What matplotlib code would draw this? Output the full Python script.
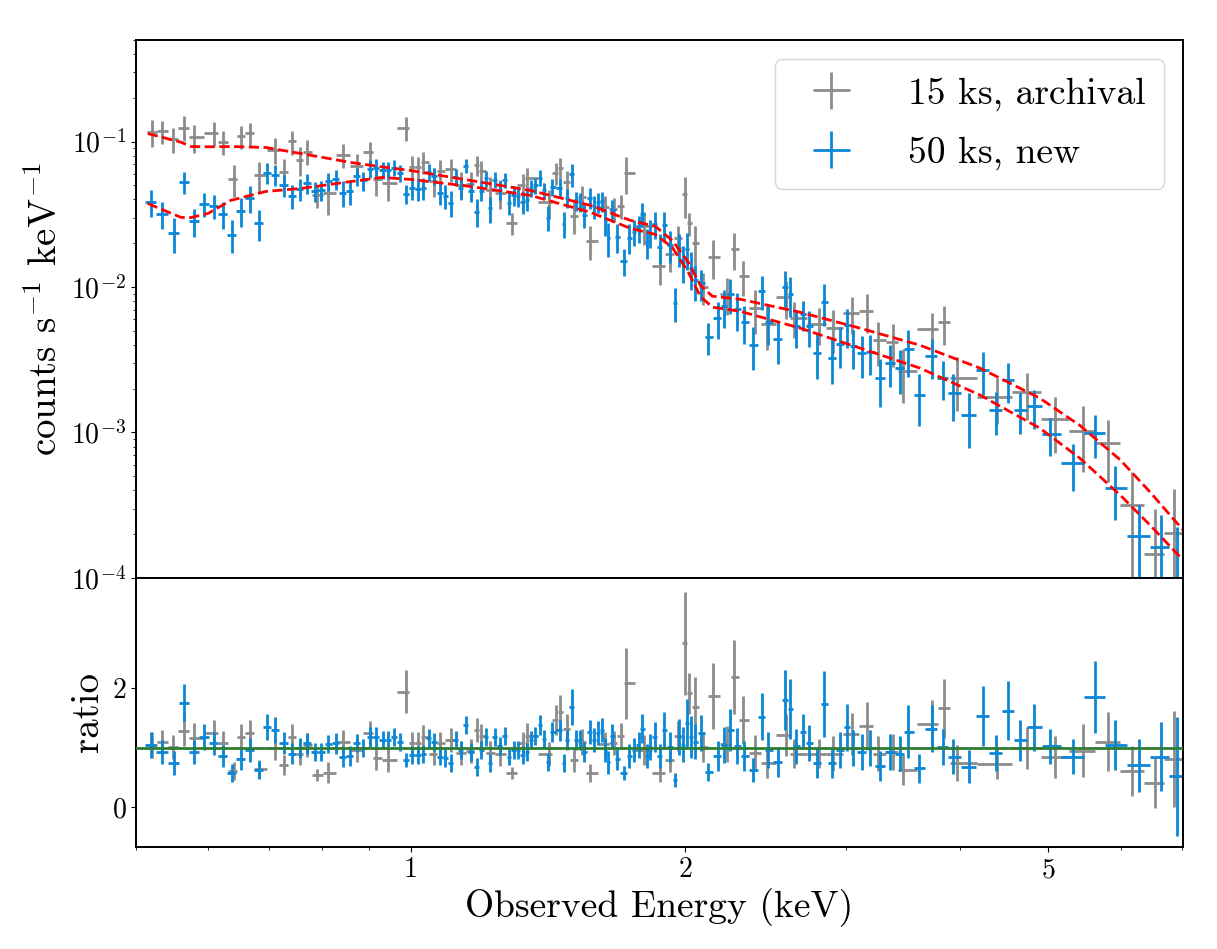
import numpy as np
import matplotlib
matplotlib.use("Agg")
import matplotlib.pyplot as plt
from matplotlib.ticker import MultipleLocator, FixedLocator, NullFormatter, FixedFormatter

plt.rcParams['font.family'] = 'cmr10'
plt.rcParams['mathtext.fontset'] = 'cm'
plt.rcParams['axes.formatter.use_mathtext'] = True
plt.rcParams['axes.linewidth'] = 1.4

# model curves (keV, counts/s/keV)
model_e = [0.515, 0.560, 0.574, 0.600, 0.635, 0.694, 0.758, 0.860, 0.930, 1.000,
           1.163, 1.353, 1.574, 1.741, 1.854, 1.935, 2.015, 2.077, 2.141, 2.297,
           2.673, 3.109, 3.615, 4.206, 4.893, 5.410, 5.990, 6.460, 7.020]
model_old = [0.1135, 0.0990, 0.0924, 0.0920, 0.0924, 0.0910, 0.0827, 0.0718, 0.0670, 0.0632,
             0.0540, 0.0461, 0.0364, 0.0287, 0.0261, 0.0209, 0.0148, 0.0103, 0.00864, 0.00824,
             0.00670, 0.00521, 0.00398, 0.00277, 0.00172, 0.00112, 0.00065, 0.00039, 0.000214]
model_new = [0.0375, 0.0301, 0.0300, 0.0321, 0.0394, 0.0454, 0.0476, 0.0531, 0.0567, 0.0549,
             0.0491, 0.0426, 0.0326, 0.0253, 0.0230, 0.0187, 0.0126, 0.00863, 0.00726, 0.00681,
             0.00521, 0.00380, 0.00277, 0.00181, 0.00107, 0.000667, 0.000372, 0.000231, 0.000133]

# 15 ks archival: energy, data/model ratio, ratio error
old_e = [0.5205, 0.5338, 0.5489, 0.5638, 0.5786, 0.6081, 0.6225, 0.6394, 0.6513, 0.6663,
         0.6816, 0.7096, 0.7254, 0.7407, 0.7559, 0.7694, 0.7889, 0.8126, 0.8426, 0.8727,
         0.9018, 0.9156, 0.9454, 0.9875, 1.0044, 1.0178, 1.0325, 1.0597, 1.0758, 1.1060,
         1.1342, 1.1634, 1.1810, 1.1952, 1.2204, 1.2513, 1.2920, 1.3260, 1.3417, 1.4161,
         1.4412, 1.4559, 1.4819, 1.5081, 1.5415, 1.5740, 1.6309, 1.6682, 1.7009, 1.7226,
         1.8036, 1.8747, 1.9259, 1.9653, 2.0000, 2.0204, 2.0512, 2.0928, 2.1445, 2.2218,
         2.2631, 2.3131, 2.3857, 2.4571, 2.5778, 2.6324, 2.8033, 2.9040, 3.0443, 3.1637,
         3.2530, 3.3784, 3.4644, 3.7256, 3.8426, 3.9676, 4.3871, 4.7315, 5.0816, 5.4488,
         5.8076, 6.1802, 6.5391, 6.8592]
old_ratio = [1.04, 1.10, 1.01, 1.28, 1.16, 1.24, 1.08, 0.60, 1.18, 1.24,
             0.64, 0.99, 0.71, 1.18, 0.90, 1.05, 0.54, 0.58, 1.10, 0.96,
             1.24, 0.82, 0.79, 1.94, 1.07, 1.07, 1.18, 0.90, 1.07, 1.13,
             0.91, 0.94, 1.29, 1.20, 0.91, 0.89, 0.57, 1.07, 1.20, 0.89,
             1.46, 1.60, 1.32, 0.79, 1.10, 0.57, 1.06, 1.08, 1.19, 2.08,
             0.96, 0.57, 0.79, 1.19, 2.75, 1.91, 1.68, 1.01, 1.87, 1.06,
             2.19, 1.46, 0.91, 0.74, 1.21, 0.90, 0.90, 0.90, 1.23, 1.36,
             0.90, 0.93, 0.62, 1.40, 1.66, 0.74, 0.72, 0.99, 0.84, 0.95,
             1.10, 0.60, 0.41, 0.81]
old_err = [0.22, 0.20, 0.20, 0.25, 0.25, 0.23, 0.20, 0.15, 0.22, 0.23,
           0.15, 0.20, 0.17, 0.22, 0.20, 0.20, 0.10, 0.17, 0.20, 0.20,
           0.20, 0.20, 0.20, 0.36, 0.20, 0.20, 0.20, 0.20, 0.20, 0.20,
           0.20, 0.20, 0.20, 0.20, 0.20, 0.20, 0.10, 0.20, 0.22, 0.20,
           0.25, 0.28, 0.25, 0.20, 0.22, 0.15, 0.20, 0.20, 0.22, 0.60,
           0.25, 0.15, 0.20, 0.25, 0.87, 0.35, 0.50, 0.25, 0.55, 0.30,
           0.62, 0.40, 0.30, 0.25, 0.35, 0.25, 0.25, 0.30, 0.35, 0.40,
           0.30, 0.30, 0.25, 0.40, 0.50, 0.30, 0.25, 0.35, 0.35, 0.45,
           0.50, 0.42, 0.42, 0.80]

# 50 ks new: energy, data/model ratio, ratio error
new_e = [0.5192, 0.5338, 0.5498, 0.5638, 0.5786, 0.5930, 0.6081, 0.6225, 0.6368, 0.6513,
         0.6663, 0.6816, 0.6955, 0.7096, 0.7254, 0.7407, 0.7559, 0.7694, 0.7845, 0.7971,
         0.8126, 0.8277, 0.8426, 0.8574, 0.8727, 0.8875, 0.9018, 0.9156, 0.9319, 0.9454,
         0.9581, 0.9727, 0.9875, 1.0044, 1.0178, 1.0325, 1.0464, 1.0597, 1.0758, 1.0914,
         1.1060, 1.1200, 1.1342, 1.1487, 1.1634, 1.1810, 1.1952, 1.2081, 1.2204, 1.2379,
         1.2513, 1.2675, 1.2823, 1.2965, 1.3096, 1.3260, 1.3417, 1.3554, 1.3701, 1.3842,
         1.3983, 1.4125, 1.4292, 1.4559, 1.4708, 1.4843, 1.5005, 1.5157, 1.5311, 1.5467,
         1.5740, 1.5900, 1.6062, 1.6211, 1.6346, 1.6471, 1.6627, 1.6839, 1.7110, 1.7369,
         1.7546, 1.7770, 1.7934, 1.8163, 1.8314, 1.8501, 1.8736, 1.8967, 1.9259, 1.9505,
         1.9703, 1.9900, 2.0101, 2.0306, 2.0512, 2.0806, 2.1195, 2.1734, 2.2067, 2.2404,
         2.2787, 2.3210, 2.3741, 2.4286, 2.4657, 2.5265, 2.5735, 2.6058, 2.6457, 2.6909,
         2.7290, 2.7872, 2.8390, 2.8944, 2.9558, 3.0061, 3.0543, 3.1219, 3.1880, 3.2695,
         3.3533, 3.4390, 3.5086, 3.6071, 3.7256, 3.8303, 3.9305, 4.0926, 4.2394, 4.3790,
         4.5109, 4.6526, 4.8195, 5.0177, 5.3175, 5.6208, 5.9117, 6.2806, 6.6498, 6.9114]
new_ratio = [1.04, 0.93, 0.74, 1.75, 0.93, 1.18, 1.07, 0.86, 0.58, 0.81,
             0.96, 0.62, 1.34, 1.29, 1.08, 0.90, 0.99, 1.07, 0.93, 0.93,
             1.06, 1.07, 0.85, 0.86, 1.07, 0.99, 1.18, 1.18, 1.13, 1.13,
             1.18, 1.10, 0.79, 0.87, 0.87, 0.89, 1.16, 1.10, 0.85, 0.82,
             0.74, 1.13, 0.96, 1.38, 0.93, 0.68, 0.96, 1.18, 0.74, 1.18,
             1.02, 1.20, 0.85, 0.96, 0.96, 0.88, 0.93, 1.13, 1.20, 1.38,
             1.15, 0.76, 1.26, 1.29, 0.74, 1.13, 1.68, 1.13, 1.13, 0.93,
             1.26, 1.13, 1.24, 1.29, 0.96, 0.75, 1.19, 0.80, 0.57, 0.86,
             0.96, 1.04, 1.32, 0.86, 1.01, 1.18, 0.86, 1.29, 1.01, 0.45,
             1.18, 1.05, 1.41, 1.18, 1.10, 1.24, 0.59, 0.86, 1.04, 1.29,
             1.03, 0.86, 0.62, 1.52, 0.96, 0.76, 1.80, 1.65, 1.02, 1.27,
             1.08, 0.74, 1.73, 0.74, 0.96, 1.34, 0.99, 0.93, 0.99, 0.69,
             0.93, 0.90, 1.27, 0.65, 1.32, 1.01, 0.85, 0.68, 1.53, 0.91,
             1.62, 1.12, 1.34, 1.02, 0.85, 1.85, 1.04, 0.70, 0.85, 0.52]
new_err = [0.22, 0.20, 0.20, 0.31, 0.20, 0.22, 0.20, 0.18, 0.15, 0.18,
           0.20, 0.15, 0.22, 0.22, 0.18, 0.17, 0.17, 0.17, 0.15, 0.15,
           0.15, 0.17, 0.17, 0.17, 0.15, 0.15, 0.17, 0.17, 0.15, 0.15,
           0.15, 0.15, 0.12, 0.15, 0.15, 0.15, 0.15, 0.15, 0.15, 0.15,
           0.15, 0.15, 0.15, 0.15, 0.15, 0.15, 0.15, 0.15, 0.15, 0.15,
           0.15, 0.15, 0.15, 0.15, 0.15, 0.15, 0.15, 0.15, 0.15, 0.17,
           0.15, 0.15, 0.17, 0.18, 0.15, 0.17, 0.30, 0.17, 0.17, 0.17,
           0.20, 0.20, 0.20, 0.20, 0.20, 0.20, 0.20, 0.18, 0.12, 0.20,
           0.20, 0.22, 0.25, 0.20, 0.22, 0.25, 0.20, 0.30, 0.25, 0.12,
           0.30, 0.30, 0.40, 0.35, 0.30, 0.30, 0.15, 0.25, 0.30, 0.35,
           0.30, 0.25, 0.20, 0.40, 0.30, 0.25, 0.50, 0.50, 0.30, 0.30,
           0.30, 0.25, 0.55, 0.25, 0.30, 0.40, 0.30, 0.30, 0.30, 0.25,
           0.30, 0.30, 0.45, 0.25, 0.40, 0.30, 0.30, 0.28, 0.50, 0.30,
           0.50, 0.35, 0.40, 0.30, 0.30, 0.60, 0.42, 0.45, 0.58, 1.00]

gray = '#8c8c8c'
blue = '#0a87d6'


def bin_halfwidths(e):
    le = np.log10(e)
    mid = (le[1:] + le[:-1]) / 2
    lo = np.concatenate([[le[0] - (mid[0] - le[0])], mid])
    hi = np.concatenate([mid, [le[-1] + (le[-1] - mid[-1])]])
    return np.vstack([e - 10**lo, 10**hi - e])


def model_at(e, me, mv):
    return 10**np.interp(np.log10(e), np.log10(me), np.log10(mv))


old_e = np.array(old_e); new_e = np.array(new_e)
old_ratio = np.array(old_ratio); new_ratio = np.array(new_ratio)
old_err = np.array(old_err); new_err = np.array(new_err)

m_old = model_at(old_e, model_e, model_old)
m_new = model_at(new_e, model_e, model_new)

fig, (ax1, ax2) = plt.subplots(2, 1, sharex=True, figsize=(12.17, 9.49), dpi=100,
                               gridspec_kw={'height_ratios': [2, 1], 'hspace': 0})
fig.subplots_adjust(left=0.1118, right=0.972, top=0.958, bottom=0.1075)

ax1.errorbar(old_e, old_ratio * m_old, yerr=old_err * m_old, xerr=bin_halfwidths(old_e),
             fmt='none', ecolor=gray, elinewidth=2, label='15 ks, archival')
ax1.errorbar(new_e, new_ratio * m_new, yerr=new_err * m_new, xerr=bin_halfwidths(new_e),
             fmt='none', ecolor=blue, elinewidth=2, label='50 ks, new')
ax1.plot(model_e, model_old, '--', color='red', lw=2)
ax1.plot(model_e, model_new, '--', color='red', lw=2)
ax1.set_xscale('log')
ax1.set_yscale('log')
ax1.set_ylim(1e-4, 0.5)
ax1.set_ylabel(r'counts s$^{-1}$ keV$^{-1}$', fontsize=28)
ax1.legend(loc='upper right', fontsize=27, labelspacing=0.68, borderpad=0.5,
           handletextpad=1.04)

ax2.errorbar(old_e, old_ratio, yerr=old_err, xerr=bin_halfwidths(old_e),
             fmt='none', ecolor=gray, elinewidth=2)
ax2.errorbar(new_e, new_ratio, yerr=new_err, xerr=bin_halfwidths(new_e),
             fmt='none', ecolor=blue, elinewidth=2)
ax2.axhline(1.0, color='#2e7d32', lw=2, zorder=5)
ax2.set_ylim(-0.67, 3.85)
ax2.yaxis.set_major_locator(MultipleLocator(2))
ax2.set_ylabel('ratio', fontsize=28)
ax2.set_xlim(0.5, 7.02)
ax2.xaxis.set_major_locator(FixedLocator([1, 2, 5]))
ax2.xaxis.set_major_formatter(FixedFormatter(['1', '2', '5']))
ax2.xaxis.set_minor_formatter(NullFormatter())
ax2.set_xlabel('Observed Energy (keV)', fontsize=27)

for ax in (ax1, ax2):
    ax.tick_params(labelsize=20)

plt.savefig('out.png', dpi=100)
